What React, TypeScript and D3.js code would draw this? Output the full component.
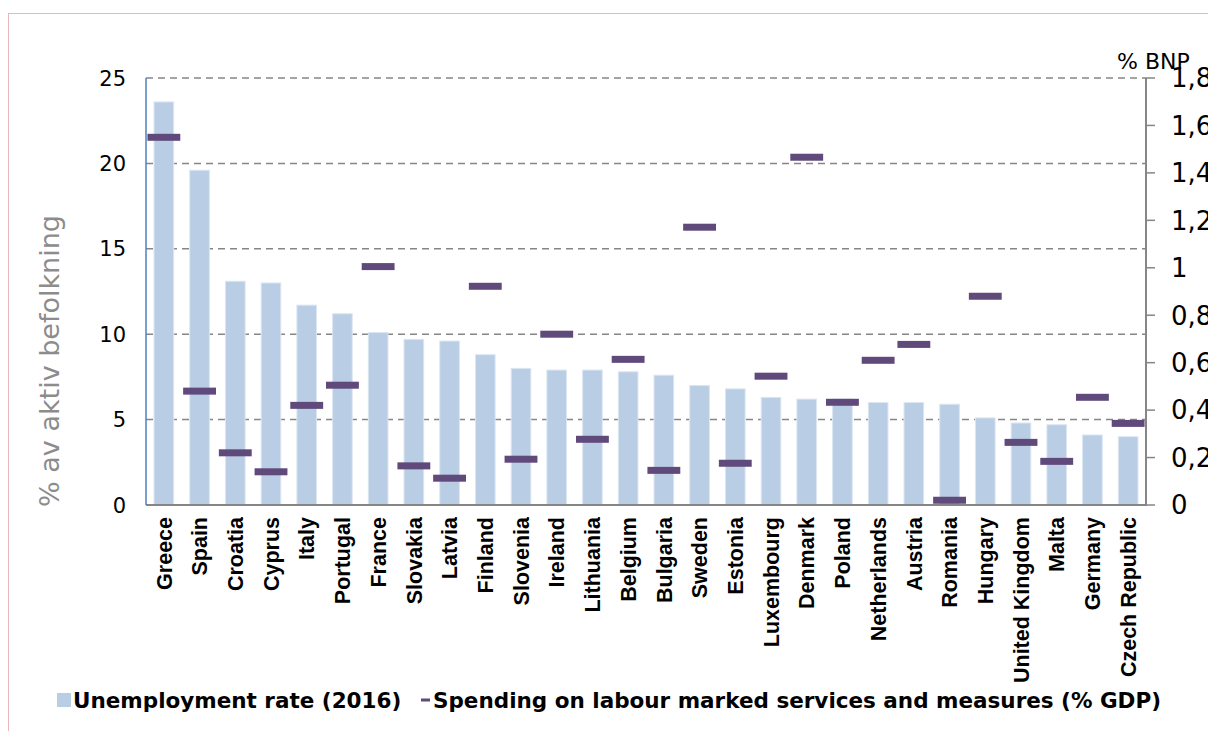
import React, { useEffect, useRef } from 'react';
import * as d3 from 'd3';

const countries = [
  'Greece', 'Spain', 'Croatia', 'Cyprus', 'Italy', 'Portugal', 'France', 'Slovakia',
  'Latvia', 'Finland', 'Slovenia', 'Ireland', 'Lithuania', 'Belgium', 'Bulgaria', 'Sweden',
  'Estonia', 'Luxembourg', 'Denmark', 'Poland', 'Netherlands', 'Austria', 'Romania',
  'Hungary', 'United Kingdom', 'Malta', 'Germany', 'Czech Republic',
];

// unemployment rate 2016, % of active population
const unemployment = [
  23.6, 19.6, 13.1, 13.0, 11.7, 11.2, 10.1, 9.7, 9.6, 8.8, 8.0, 7.9, 7.9, 7.8,
  7.6, 7.0, 6.8, 6.3, 6.2, 6.2, 6.0, 6.0, 5.9, 5.1, 4.8, 4.7, 4.1, 4.0,
];

// spending on labour market services and measures, % GDP
const spending = [
  1.55, 0.48, 0.22, 0.14, 0.42, 0.505, 1.005, 0.165, 0.113, 0.922, 0.193, 0.72, 0.277, 0.614,
  0.146, 1.171, 0.176, 0.543, 1.466, 0.433, 0.61, 0.677, 0.02, 0.88, 0.264, 0.184, 0.454, 0.344,
];

const leftTicks = [0, 5, 10, 15, 20, 25];
const rightTicks = [0, 0.2, 0.4, 0.6, 0.8, 1, 1.2, 1.4, 1.6, 1.8];

const legendLabels = [
  'Unemployment rate (2016)',
  'Spending on labour marked services and measures (% GDP)',
];

const BAR = '#b9cde5';
const MARK = '#604a7b';

const App: React.FC = () => {
  const svgRef = useRef<SVGSVGElement>(null);

  useEffect(() => {
    if (!svgRef.current) return;
    const svg = d3.select(svgRef.current);
    svg.selectAll('*').remove();

    const left = 146;
    const right = 1146;
    const top = 78;
    const bottom = 505;

    const x = d3.scaleBand<string>()
      .domain(countries)
      .range([left, right])
      .paddingInner(0.45)
      .paddingOuter(0.225);
    const yL = d3.scaleLinear().domain([0, 25]).range([bottom, top]);
    const yR = d3.scaleLinear().domain([0, 1.8]).range([bottom, top]);

    // outer frame
    svg.append('rect')
      .attr('x', 8.5).attr('y', 13.5)
      .attr('width', 1300).attr('height', 800)
      .attr('fill', 'none')
      .attr('stroke', '#e6b9b8')
      .attr('stroke-width', 1);

    // dashed gridlines
    svg.append('g')
      .selectAll('line')
      .data(leftTicks.filter(t => t > 0))
      .join('line')
      .attr('x1', left).attr('x2', right)
      .attr('y1', d => yL(d)).attr('y2', d => yL(d))
      .attr('stroke', '#868686')
      .attr('stroke-width', 1.5)
      .attr('stroke-dasharray', '7,5');

    // bars
    svg.append('g')
      .selectAll('rect')
      .data(countries)
      .join('rect')
      .attr('x', d => x(d)!)
      .attr('width', x.bandwidth())
      .attr('y', (d, i) => yL(unemployment[i]))
      .attr('height', (d, i) => bottom - yL(unemployment[i]))
      .attr('fill', BAR)
      .attr('stroke', '#dce6f2')
      .attr('stroke-width', 1);

    // markers
    const step = x.step();
    svg.append('g')
      .selectAll('rect')
      .data(countries)
      .join('rect')
      .attr('x', d => x(d)! + x.bandwidth() / 2 - step * 0.46)
      .attr('width', step * 0.92)
      .attr('y', (d, i) => yR(spending[i]) - 3.5)
      .attr('height', 7)
      .attr('fill', MARK);

    // axes lines
    svg.append('line')
      .attr('x1', left).attr('x2', right)
      .attr('y1', bottom).attr('y2', bottom)
      .attr('stroke', '#868686').attr('stroke-width', 2);
    svg.append('line')
      .attr('x1', left).attr('x2', left)
      .attr('y1', top).attr('y2', bottom)
      .attr('stroke', '#4f81bd').attr('stroke-width', 1.5);
    svg.append('line')
      .attr('x1', right).attr('x2', right)
      .attr('y1', top).attr('y2', bottom + 1)
      .attr('stroke', '#868686').attr('stroke-width', 2);

    const font = '"DejaVu Sans", Verdana, sans-serif';

    // left tick labels
    svg.append('g')
      .selectAll('text')
      .data(leftTicks)
      .join('text')
      .attr('x', 126)
      .attr('y', d => yL(d))
      .attr('dy', '0.36em')
      .attr('text-anchor', 'end')
      .style('font-family', font)
      .style('font-size', '21px')
      .attr('fill', '#000')
      .text(d => String(d));

    // right ticks + labels
    const rg = svg.append('g');
    rg.selectAll('line')
      .data(rightTicks)
      .join('line')
      .attr('x1', right).attr('x2', right + 9)
      .attr('y1', d => yR(d)).attr('y2', d => yR(d))
      .attr('stroke', '#868686').attr('stroke-width', 1.5);
    rg.selectAll('text')
      .data(rightTicks)
      .join('text')
      .attr('x', 1171)
      .attr('y', d => yR(d))
      .attr('dy', '0.36em')
      .style('font-family', font)
      .style('font-size', '26px')
      .attr('fill', '#000')
      .text(d => String(+d.toFixed(1)).replace('.', ','));

    svg.append('text')
      .attr('x', 1117)
      .attr('y', 69)
      .style('font-family', font)
      .style('font-size', '22px')
      .attr('fill', '#000')
      .text('% BNP');

    // left axis title
    svg.append('text')
      .attr('transform', 'translate(59,361) rotate(-90)')
      .attr('text-anchor', 'middle')
      .style('font-family', font)
      .style('font-size', '27px')
      .attr('fill', '#8c8c8c')
      .text('% av aktiv befolkning');

    // category labels
    svg.append('g')
      .selectAll('text')
      .data(countries)
      .join('text')
      .attr('transform', d => `translate(${x(d)! + x.bandwidth() / 2},517) rotate(-90)`)
      .attr('dy', '0.36em')
      .attr('text-anchor', 'end')
      .style('font-family', '"Liberation Sans", Arial, sans-serif')
      .style('font-weight', 'bold')
      .style('font-size', '21.5px')
      .attr('fill', '#000')
      .text(d => d);

    // legend
    const lg = svg.append('g');
    lg.append('rect')
      .attr('x', 57).attr('y', 693).attr('width', 14).attr('height', 14)
      .attr('fill', BAR);
    lg.append('text')
      .attr('x', 73).attr('y', 708)
      .style('font-family', font)
      .style('font-weight', 'bold')
      .style('font-size', '21.5px')
      .attr('fill', '#000')
      .text(legendLabels[0]);
    lg.append('rect')
      .attr('x', 421).attr('y', 698.5).attr('width', 9).attr('height', 3)
      .attr('fill', MARK);
    lg.append('text')
      .attr('x', 433).attr('y', 708)
      .style('font-family', font)
      .style('font-weight', 'bold')
      .style('font-size', '21.5px')
      .attr('fill', '#000')
      .text(legendLabels[1]);
  }, []);

  return (
    <svg
      ref={svgRef}
      width={1208}
      height={731}
      style={{ position: 'absolute', left: 0, top: 0, display: 'block', background: '#fff' }}
    />
  );
};

export default App;
